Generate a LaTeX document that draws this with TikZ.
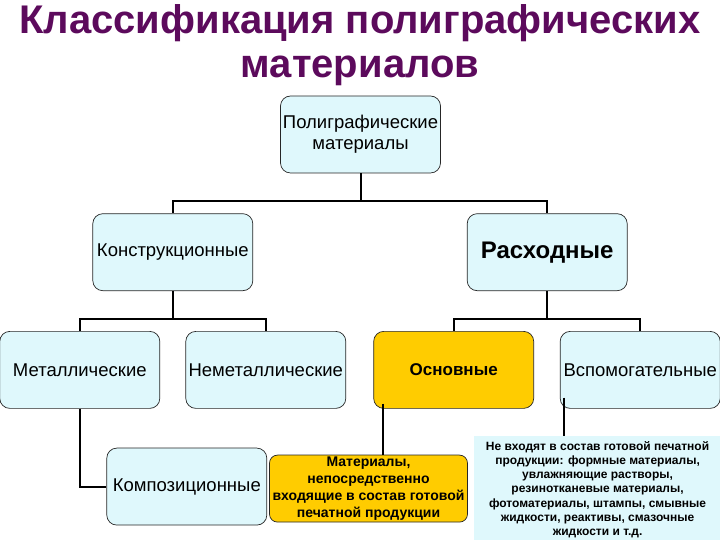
\documentclass[tikz,border=0pt]{standalone}
\usepackage{fontspec}
\setmainfont{Liberation Sans}
\usepackage{xcolor}
\definecolor{TitlePurple}{HTML}{5C0A5C}
\definecolor{PaleCyan}{HTML}{DFF8FC}
\definecolor{Amber}{HTML}{FFCC00}
\usepackage{tikz}
\usetikzlibrary{positioning, calc}
\tikzstyle{block} = [rectangle, draw=black!85, fill=PaleCyan, text=black, minimum width=160pt, minimum height=77pt, text centered, rounded corners=10pt, line width=0.7pt, align=center, inner sep=1pt, font=\fontsize{18.5}{21}\selectfont]
\tikzstyle{mainblock} = [block, fill=Amber, font=\fontsize{17}{21}\selectfont\bfseries]
\tikzstyle{line} = [-, color=black, line width=2pt]

\begin{document}
\begin{tikzpicture}[node distance=40pt]
        \useasboundingbox (0,0) rectangle (720pt,540pt);
        % Title
        \node [text=TitlePurple, font=\fontsize{40}{44}\selectfont\bfseries, align=center, anchor=north, inner sep=0pt] (title) at (360pt,535.5pt) {Классификация полиграфических\\материалов};

        % Entities
        \node [block] (root) at (360.5pt,405.5pt) {Полиграфические\\материалы};
        \node [block, below left=40pt and 27pt of root] (kon) {Конструкционные};
        \node [block, below right=40pt and 26pt of root, font=\fontsize{24}{28}\selectfont\bfseries] (rash) {Расходные};

        \node [block, below=40pt of kon, xshift=-93pt] (met) {Металлические};
        \node [block, below=40pt of kon, xshift=93pt] (nem) {Неметаллические};
        \node [mainblock, below=40pt of rash, xshift=-93.5pt] (osn) {Основные};
        \node [block, below=40pt of rash, xshift=93pt] (vsp) {Вспомогательные};

        \node [block, below=39pt of met, xshift=107pt] (komp) {Композиционные};
        \node [mainblock, right=2pt of komp, yshift=-2pt, minimum width=198pt, minimum height=67pt, rounded corners=8pt, font=\fontsize{14}{16.8}\selectfont\bfseries] (mat) {Материалы,\\непосредственно\\входящие в состав готовой\\печатной продукции};
        \node [right=6pt of mat, yshift=-1pt, fill=PaleCyan, minimum width=247pt, minimum height=107pt, inner sep=1pt, align=center, font=\fontsize{12}{14.2}\selectfont\bfseries] (note) {Не входят в состав готовой печатной\\продукции: формные материалы,\\увлажняющие растворы,\\резинотканевые материалы,\\фотоматериалы, штампы, смывные\\жидкости, реактивы, смазочные\\жидкости и т.д.};

        % Relationships
        \draw [line] (root.south) |- ([yshift=12pt]kon.north) -- (kon.north);
        \draw [line] (root.south) |- ([yshift=12pt]rash.north) -- (rash.north);

        \draw [line] (kon.south) |- ([yshift=12pt]met.north) -- (met.north);
        \draw [line] (kon.south) |- ([yshift=12pt]nem.north) -- (nem.north);
        \draw [line] (rash.south) |- ([yshift=12pt]osn.north) -- (osn.north);
        \draw [line] (rash.south) |- ([yshift=12pt]vsp.north) -- (vsp.north);

        % Lower level
        \draw [line] (met.south) |- (komp.west);
        \draw [line] ([xshift=10pt,yshift=5pt]osn.south west) coordinate (osnfoot) -- (osnfoot |- mat.north);
        \draw [line] ([xshift=4pt,yshift=11pt]vsp.south west) coordinate (vspfoot) -- (vspfoot |- note.north);
    \end{tikzpicture}
\end{document}
